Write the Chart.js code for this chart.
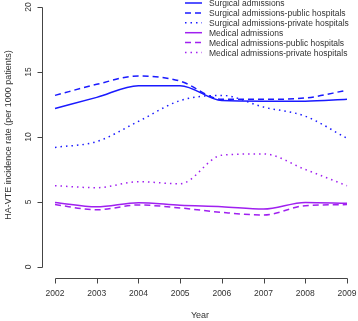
<!DOCTYPE html>
<html>
<head>
<meta charset="utf-8">
<script src="https://cdn.jsdelivr.net/npm/chart.js@4"></script>
<style>
  html, body { margin: 0; padding: 0; background: #fff; }
  #wrap { width: 358px; height: 321px; position: relative; }
</style>
</head>
<body>
<div id="wrap"><canvas id="vteChart"></canvas></div>
<script>
// Data
const years = [2002, 2003, 2004, 2005, 2006, 2007, 2008, 2009];
const yTicks = [0, 5, 10, 15, 20];
const surgical = [12.2, 13.05, 13.95, 13.95, 12.8, 12.75, 12.75, 12.9];
const surgicalPublic = [13.2, 14.05, 14.7, 14.3, 12.9, 12.9, 13.0, 13.6];
const surgicalPrivate = [9.2, 9.65, 11.2, 12.8, 13.2, 12.3, 11.6, 9.9];
const medical = [4.97, 4.64, 4.95, 4.75, 4.64, 4.46, 4.97, 4.9];
const medicalPublic = [4.8, 4.4, 4.77, 4.54, 4.2, 4.0, 4.72, 4.8];
const medicalPrivate = [6.25, 6.1, 6.56, 6.4, 8.6, 8.7, 7.5, 6.25];

const xTitle = 'Year';
const yTitle = 'HA-VTE incidence rate (per 1000 patients)';

const BLUE = '#1a1aff';
const PURPLE = '#a020f0';
const SOLID = [];
const DASHED = [6, 4];
const DOTTED = [1.5, 4];

// Build one line dataset from a series
function series(label, values, color, dash) {
  return {
    label: label,
    data: values.map((v, i) => ({ x: years[i], y: v })),
    borderColor: color,
    borderWidth: 1.5,
    borderDash: dash,
    pointRadius: 0,
    fill: false,
    cubicInterpolationMode: 'monotone'
  };
}

const datasets = [
  series('Surgical admissions', surgical, BLUE, SOLID),
  series('Surgical admissions-public hospitals', surgicalPublic, BLUE, DASHED),
  series('Surgical admissions-private hospitals', surgicalPrivate, BLUE, DOTTED),
  series('Medical admissions', medical, PURPLE, SOLID),
  series('Medical admissions-public hospitals', medicalPublic, PURPLE, DASHED),
  series('Medical admissions-private hospitals', medicalPrivate, PURPLE, DOTTED)
];

const FONT = '"Liberation Sans", Arial, sans-serif';

// R-style detached axes, titles and legend
const rStyle = {
  id: 'rStyle',
  afterDraw(chart) {
    const ctx = chart.ctx;
    const x = chart.scales.x;
    const y = chart.scales.y;
    ctx.save();

    // axes lines and ticks
    ctx.strokeStyle = '#444';
    ctx.lineWidth = 1;
    ctx.setLineDash([]);
    ctx.beginPath();
    const ax = 42.5;
    ctx.moveTo(ax, Math.round(y.getPixelForValue(yTicks[0])) + 0.5);
    ctx.lineTo(ax, Math.round(y.getPixelForValue(yTicks[yTicks.length - 1])) + 0.5);
    yTicks.forEach(v => {
      const py = Math.round(y.getPixelForValue(v)) + 0.5;
      ctx.moveTo(ax, py);
      ctx.lineTo(ax - 5, py);
    });
    const ay = 278.5;
    ctx.moveTo(Math.round(x.getPixelForValue(years[0])) + 0.5, ay);
    ctx.lineTo(Math.round(x.getPixelForValue(years[years.length - 1])) + 0.5, ay);
    years.forEach(yr => {
      const px = Math.round(x.getPixelForValue(yr)) + 0.5;
      ctx.moveTo(px, ay);
      ctx.lineTo(px, ay + 5);
    });
    ctx.stroke();

    // tick labels
    ctx.fillStyle = '#333';
    ctx.font = '8.5px ' + FONT;
    ctx.textAlign = 'center';
    ctx.textBaseline = 'middle';
    years.forEach(yr => ctx.fillText(String(yr), x.getPixelForValue(yr), 294));
    yTicks.forEach(v => {
      ctx.save();
      ctx.translate(28.5, y.getPixelForValue(v));
      ctx.rotate(-Math.PI / 2);
      ctx.fillText(String(v), 0, 0);
      ctx.restore();
    });

    // axis titles
    ctx.font = '9px ' + FONT;
    ctx.fillText(xTitle, 200, 316);
    ctx.save();
    ctx.translate(9, 135);
    ctx.rotate(-Math.PI / 2);
    ctx.fillText(yTitle, 0, 0);
    ctx.restore();

    // legend
    ctx.font = '8.5px ' + FONT;
    ctx.textAlign = 'left';
    chart.data.datasets.forEach((ds, i) => {
      const ly = 3 + i * 9.9;
      ctx.strokeStyle = ds.borderColor;
      ctx.lineWidth = 1.5;
      ctx.setLineDash(ds.borderDash);
      ctx.beginPath();
      ctx.moveTo(185, ly);
      ctx.lineTo(202, ly);
      ctx.stroke();
      ctx.fillStyle = '#333';
      ctx.fillText(ds.label, 209, ly + 1);
    });

    ctx.restore();
  }
};

const ctx = document.getElementById('vteChart').getContext('2d');
new Chart(ctx, {
  type: 'line',
  data: { datasets: datasets },
  options: {
    responsive: true,
    maintainAspectRatio: false,
    animation: false,
    layout: { padding: { left: 42, right: 0, top: 7, bottom: 43 } },
    scales: {
      x: { type: 'linear', min: 2001.688, max: 2009.264, display: false },
      y: { min: -0.846, max: 20, display: false }
    },
    plugins: {
      legend: { display: false },
      tooltip: { enabled: false }
    }
  },
  plugins: [rStyle]
});
</script>
</body>
</html>
